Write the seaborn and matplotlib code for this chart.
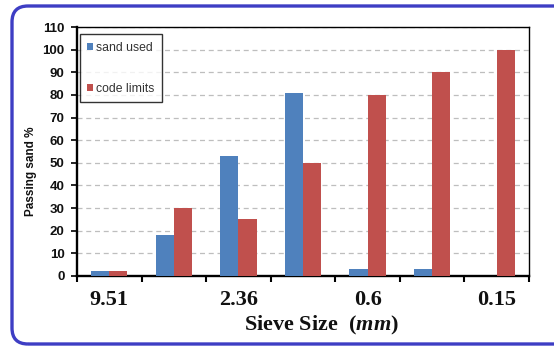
import matplotlib
matplotlib.use("Agg")
import matplotlib.pyplot as plt
from matplotlib.patches import FancyBboxPatch
from matplotlib.ticker import FixedLocator
import seaborn as sns
import pandas as pd

# Sieve analysis of the fine aggregate
sieve_sizes = ["9.51", "4.75", "2.36", "1.18", "0.6", "0.3", "0.15"]
tick_labels = ["9.51", "", "2.36", "", "0.6", "", "0.15"]
sand_used = [2, 18, 53, 81, 3, 3, 0]
code_limits = [2, 30, 25, 50, 80, 90, 100]
series_names = ["sand used", "code limits"]
y_ticks = list(range(0, 111, 10))

df = pd.DataFrame({
    "sieve": sieve_sizes * 2,
    "passing": sand_used + code_limits,
    "series": [series_names[0]] * len(sieve_sizes) + [series_names[1]] * len(sieve_sizes),
})

sns.set_style("white")
plt.rcParams["font.family"] = ["Liberation Sans", "DejaVu Sans"]
plt.rcParams["mathtext.fontset"] = "custom"
plt.rcParams["mathtext.it"] = "Liberation Serif:italic:bold"
plt.rcParams["mathtext.rm"] = "Liberation Serif:bold"

fig = plt.figure(figsize=(5.54, 3.47), dpi=100)
ax = fig.add_axes([77 / 554, 71 / 347, 452 / 554, 249 / 347])

sns.barplot(data=df, x="sieve", y="passing", hue="series",
            order=sieve_sizes, hue_order=series_names,
            palette=["#4F81BD", "#C0504D"], saturation=1, width=0.56, gap=0,
            linewidth=0, errorbar=None, ax=ax, zorder=3)

ax.set_xlim(-0.5, len(sieve_sizes) - 0.5)
ax.set_ylim(0, 110)
ax.yaxis.set_major_locator(FixedLocator(y_ticks))
ax.set_yticklabels([str(v) for v in y_ticks], fontsize=9.5, fontweight="bold",
                   color="#111111")
ax.set_xticks(range(len(sieve_sizes)))
ax.set_xticklabels(tick_labels, fontsize=16, fontweight="bold",
                   family="Liberation Serif", color="#111111")
ax.tick_params(axis="x", which="major", length=0, pad=10)
ax.xaxis.set_minor_locator(FixedLocator([i - 0.5 for i in range(len(sieve_sizes) + 1)]))
ax.tick_params(axis="x", which="minor", direction="out", length=4, width=1.5,
               color="black", bottom=True)
ax.tick_params(axis="y", which="major", direction="out", length=4, width=1.2,
               color="black", left=True, pad=5)

ax.yaxis.grid(True, color="#BEBEBE", linestyle=(0, (4, 3)), linewidth=0.9, zorder=0)
ax.xaxis.grid(False)
ax.set_axisbelow(True)

for side, lw in {"left": 1.7, "bottom": 1.7, "top": 1.0, "right": 1.0}.items():
    ax.spines[side].set_visible(True)
    ax.spines[side].set_color("black")
    ax.spines[side].set_linewidth(lw)

ax.set_xlabel("")
ax.set_ylabel("Passing sand %", fontsize=8.5, fontweight="bold", color="#111111")
ax.yaxis.set_label_coords(-0.088, 0.42)

fig.text(321 / 554, 1 - 325 / 347, r"Sieve Size  ($\mathit{mm}$)",
         ha="center", va="center", fontsize=16, fontweight="bold",
         family="Liberation Serif", color="#111111")

handles, labels = ax.get_legend_handles_labels()
ax.get_legend().remove()
leg = ax.legend(handles, labels, loc="upper left", bbox_to_anchor=(0.006, 0.97),
                fontsize=8.8, frameon=True, fancybox=False, edgecolor="black",
                handlelength=0.5, handleheight=0.5, handletextpad=0.25,
                labelspacing=2.4, borderpad=0.6, borderaxespad=0)
leg.get_frame().set_linewidth(1.0)
for t in leg.get_texts():
    t.set_color("#333333")

# rounded outer frame
frame = FancyBboxPatch((12 / 100, 3 / 100), 5.8, 3.38,
                       boxstyle="round,pad=0,rounding_size=0.16",
                       transform=fig.dpi_scale_trans, fill=False,
                       edgecolor="#3E3EC4", linewidth=2.4, clip_on=False)
fig.patches.append(frame)

fig.savefig("out.png", dpi=100)
